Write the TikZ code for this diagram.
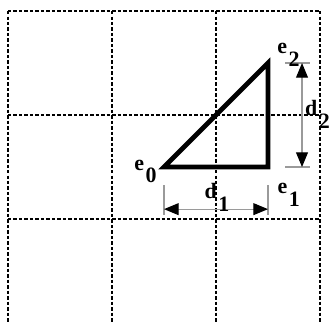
\documentclass[tikz,border=0pt]{standalone}
\usepackage{fontspec}
\setmainfont{Liberation Serif}
\usepackage{tikz}
\usetikzlibrary{arrows.meta}
\definecolor{grau}{HTML}{9A9A9A}
\newcommand{\idx}[2]{\textbf{#1}\kern0.8pt\raisebox{-7pt}{\textbf{#2}}}
\tikzset{
  gitter/.style={black,line width=1pt,dash pattern=on 1.9pt off 1.1pt},
  kante/.style={black,line width=2.6pt},
  hilf/.style={grau,line width=0.6pt},
  mass/.style={{Triangle[length=8pt,width=6.5pt,black]}-{Triangle[length=8pt,width=6.5pt,black]},grau,line width=0.6pt},
  marke/.style={inner sep=0pt,font=\fontsize{12pt}{14pt}\selectfont},
}
\begin{document}
\begin{tikzpicture}
  \useasboundingbox (-0.154,0.212) rectangle (6.173,-5.98);
  \foreach \x in {0,2,4,6} \draw[gitter] (\x,0)--(\x,-5.98);
  \foreach \y in {0,-2,-4} \draw[gitter] (0,\y)--(6,\y);
  \coordinate (e0) at (3,-3);
  \coordinate (e1) at (5,-3);
  \coordinate (e2) at (5,-1);
  \draw[kante] (e0)--(e1)--(e2)--cycle;
  % Masslinien
  \coordinate (a1) at (3,-3.35); \coordinate (a2) at (3,-3.92);
  \coordinate (b1) at (5,-3.35); \coordinate (b2) at (5,-3.92);
  \draw[hilf] (a1)--(a2); \draw[hilf] (b1)--(b2);
  \coordinate (p1) at (3,-3.81); \coordinate (p2) at (5,-3.81);
  \draw[mass] (p1)--(p2);
  \coordinate (c1) at (5.33,-1); \coordinate (c2) at (5.81,-1);
  \coordinate (c3) at (5.33,-3); \coordinate (c4) at (5.81,-3);
  \draw[hilf] (c1)--(c2); \draw[hilf] (c3)--(c4);
  \coordinate (q1) at (5.654,-1); \coordinate (q2) at (5.654,-3);
  \draw[mass] (q1)--(q2);
  % Beschriftung
  \node[marke] (le0) at (2.644,-3.087) {\idx{e}{0}};
  \node[marke] (le1) at (5.40,-3.54) {\idx{e}{1}};
  \node[marke] (le2) at (5.394,-0.837) {\idx{e}{2}};
  \node[marke] (ld1) at (4.02,-3.577) {\idx{d}{1}};
  \node[marke] (ld2) at (5.952,-1.981) {\idx{d}{2}};
\end{tikzpicture}
\end{document}
